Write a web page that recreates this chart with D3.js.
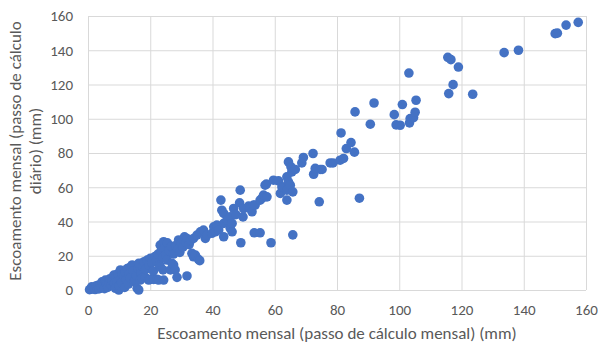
<!DOCTYPE html>
<html>
<head>
<meta charset="utf-8">
<script src="https://cdn.jsdelivr.net/npm/d3@7"></script>
<style>
  body { margin: 0; background: #fff; }
  text { font-family: Carlito, "Liberation Sans", sans-serif; fill: #595959; }
</style>
</head>
<body>
<svg id="chart" width="598" height="344"></svg>
<script>
const xTicks = [0, 20, 40, 60, 80, 100, 120, 140, 160];
const yTicks = [0, 20, 40, 60, 80, 100, 120, 140, 160];

const xTitle = 'Escoamento mensal (passo de cálculo mensal) (mm)';
const yTitle = ['Escoamento mensal (passo de cálculo', 'diário) (mm)'];

// monthly runoff: [mensal, diário]
const lowRange = [
  [0.5, 0.2], [1, 0.5], [1.2, 1.8], [1.5, 0.8], [2, 1.5], [2.3, 0.3], [2.5, 2.3], [3, 1.2],
  [3.2, 2.8], [3.5, 0.6], [4, 3.2], [4.2, 1.8], [4.5, 4.8], [5, 2.5], [5.3, 0.8], [5.6, 5.8],
  [6, 3.5], [6.3, 1.5], [6.8, 4.2], [7, 6.5], [7.5, 2.8], [7.8, 5.5], [8.3, 8.7], [8.5, 3.8],
  [8.8, 1], [9, 7.2], [9.3, 5], [9.6, 9.5], [9.9, 0], [10, 2.5], [10.4, 11.7], [10.5, 6.8],
  [10.8, 4.2], [11, 9], [11.5, 8], [11.8, 1.5],
  [12, 10.5], [12.3, 6], [12.6, 12.5], [13, 3.5], [13.2, 9.2], [13.6, 7], [13.8, 13.6], [14.2, 14.6],
  [14.5, 11], [14.8, 5], [15.2, 5.8], [15.5, 8.5], [15.8, 1], [16, 12.5], [16.3, 15.6], [16.3, 0],
  [16.8, 5.8], [17, 10], [17.4, 6.8], [17.5, 14], [18, 16.5], [18.4, 7.4], [18.5, 12], [19, 17.5],
  [19.5, 5.8], [19.6, 14.5], [20, 6.2], [20, 18.5], [20.5, 16], [21.1, 6.2], [21, 11], [21.5, 19.5]
];

const midRange = [
  [22, 17], [22.2, 6.2], [22.7, 5.8], [22.5, 21], [23, 14.5], [23.2, 13.6], [23.2, 26.2], [23.5, 22.5],
  [24, 19], [24.1, 11.7], [24.3, 5.8], [24.3, 28.2], [24.6, 24.5], [25, 20.5], [25.4, 17.5], [25.5, 27.5],
  [26, 23], [26.5, 11.7], [26.8, 25.5], [27, 15.6], [27.5, 14.6], [27.5, 21], [28, 11.7], [28.2, 26],
  [28.6, 7.4], [29, 24], [29.1, 29.2], [29.5, 22], [30, 27.5], [30.5, 25], [31, 31], [31.5, 28],
  [31.8, 30.1], [31.8, 8.2], [32.5, 26.5], [33, 29], [33.4, 21.4], [33.9, 19.4], [33.9, 30.1], [34.5, 20.4],
  [35, 32.1], [35.5, 17.9], [35.9, 17.1], [36.1, 34], [37.1, 35], [37.7, 30.1], [38.2, 32.1],
  [39.8, 33.1], [40.4, 36.9], [40.9, 34], [41.4, 37.9], [42, 35], [42.7, 52.5], [43, 46.6], [43.6, 44.7],
  [43.6, 38.9], [43.6, 31.1], [44.7, 40.8], [45.7, 42.7], [45.7, 36], [46.3, 38.9], [46.3, 34], [46.8, 47.6],
  [47.5, 44], [48.7, 50.9], [48.9, 58.3], [49.1, 27.6], [49.8, 42.7], [50, 47.6], [51.6, 49], [52.1, 47.6],
  [52.7, 45.7], [53.2, 49.6], [53.4, 33.4], [53.7, 49.6], [55.3, 33.4], [55.3, 52.5], [55.9, 53.5], [56.4, 55.4],
  [56.9, 61.2], [57.3, 61.8], [57.5, 54.4], [58.8, 27.6]
];

const highRange = [
  [59.6, 64.1], [61.2, 63.7], [61.8, 56.4], [62.3, 60.2], [62.8, 59.9], [63.9, 58.3], [63.9, 52.5], [63.9, 66.1],
  [64.4, 63.2], [64.4, 74.8], [65, 61.2], [65.2, 71.9], [65.5, 69], [65.8, 57.3], [65.8, 32.2], [66.6, 70.4],
  [68.7, 74.2], [69.2, 77.4], [72.3, 79.7], [72.5, 67.6], [73, 71], [74.3, 51.5], [74.6, 70.4], [75.2, 70.4],
  [77.8, 74.2], [78.7, 74.2], [81, 75.8], [81.3, 91.7], [82.1, 76.8], [83, 82.6], [84.5, 86.1], [85.6, 80.5],
  [85.8, 104], [87.2, 53.6], [90.7, 96.8], [91.9, 109.2], [98.4, 102.4], [99, 96.4], [100.3, 96.2], [101, 108.3],
  [103.1, 126.7], [103.3, 97.6], [103.5, 100.1], [104.6, 100.7], [105.1, 103.8], [105.4, 110.8],
  [115.6, 135.9], [116.6, 134.5], [115.9, 114.7], [117.3, 119.9], [119, 130.2], [123.6, 114.3],
  [133.7, 138.6], [138.3, 140], [150.1, 149.7], [150.8, 150], [153.6, 154.7], [157.5, 156.3]
];

const points = [...lowRange, ...midRange, ...highRange];

const svg = d3.select('#chart');

const margin = { top: 16, right: 12, bottom: 54, left: 88 };
const width = 598;
const height = 344;
const chartWidth = width - margin.left - margin.right;
const chartHeight = height - margin.top - margin.bottom;

const g = svg.append('g').attr('transform', `translate(${margin.left},${margin.top})`);

const x = d3.scaleLinear().domain([0, 160]).range([0, chartWidth]);
const y = d3.scaleLinear().domain([0, 160]).range([chartHeight, 0]);

//
// GRID
//

g.append('g')
  .call(d3.axisLeft(y).tickValues(yTicks).tickSize(-chartWidth).tickFormat(''))
  .call((a) => a.select('.domain').remove())
  .selectAll('line').attr('stroke', '#d9d9d9').attr('stroke-width', 1);

g.append('g')
  .attr('transform', `translate(0,${chartHeight})`)
  .call(d3.axisBottom(x).tickValues(xTicks).tickSize(-chartHeight).tickFormat(''))
  .call((a) => a.select('.domain').remove())
  .selectAll('line').attr('stroke', '#d9d9d9').attr('stroke-width', 1);

//
// AXES LABELS
//

const yAxis = g.append('g')
  .call(d3.axisLeft(y).tickValues(yTicks).tickSize(0).tickPadding(15));
yAxis.select('.domain').remove();
yAxis.selectAll('text').style('font-size', '15px').attr('fill', '#595959');

const xAxis = g.append('g')
  .attr('transform', `translate(0,${chartHeight})`)
  .call(d3.axisBottom(x).tickValues(xTicks).tickSize(0).tickPadding(14));
xAxis.select('.domain').remove();
xAxis.selectAll('text').style('font-size', '15px').attr('fill', '#595959');

//
// POINTS
//

g.append('g')
  .selectAll('circle')
  .data(points)
  .join('circle')
  .attr('cx', (d) => x(d[0]))
  .attr('cy', (d) => y(d[1]))
  .attr('r', 4.8)
  .attr('fill', '#4472c4');

//
// TITLES
//

svg.append('text')
  .attr('x', margin.left + chartWidth / 2)
  .attr('y', 339)
  .attr('text-anchor', 'middle')
  .style('font-size', '17px')
  .text(xTitle);

const yt = svg.append('text')
  .attr('transform', `translate(21,${margin.top + chartHeight / 2 - 2}) rotate(-90)`)
  .attr('text-anchor', 'middle')
  .style('font-size', '17px');
yTitle.forEach((line, i) => {
  yt.append('tspan').attr('x', 0).attr('dy', i === 0 ? 0 : 20).text(line);
});
</script>
</body>
</html>
